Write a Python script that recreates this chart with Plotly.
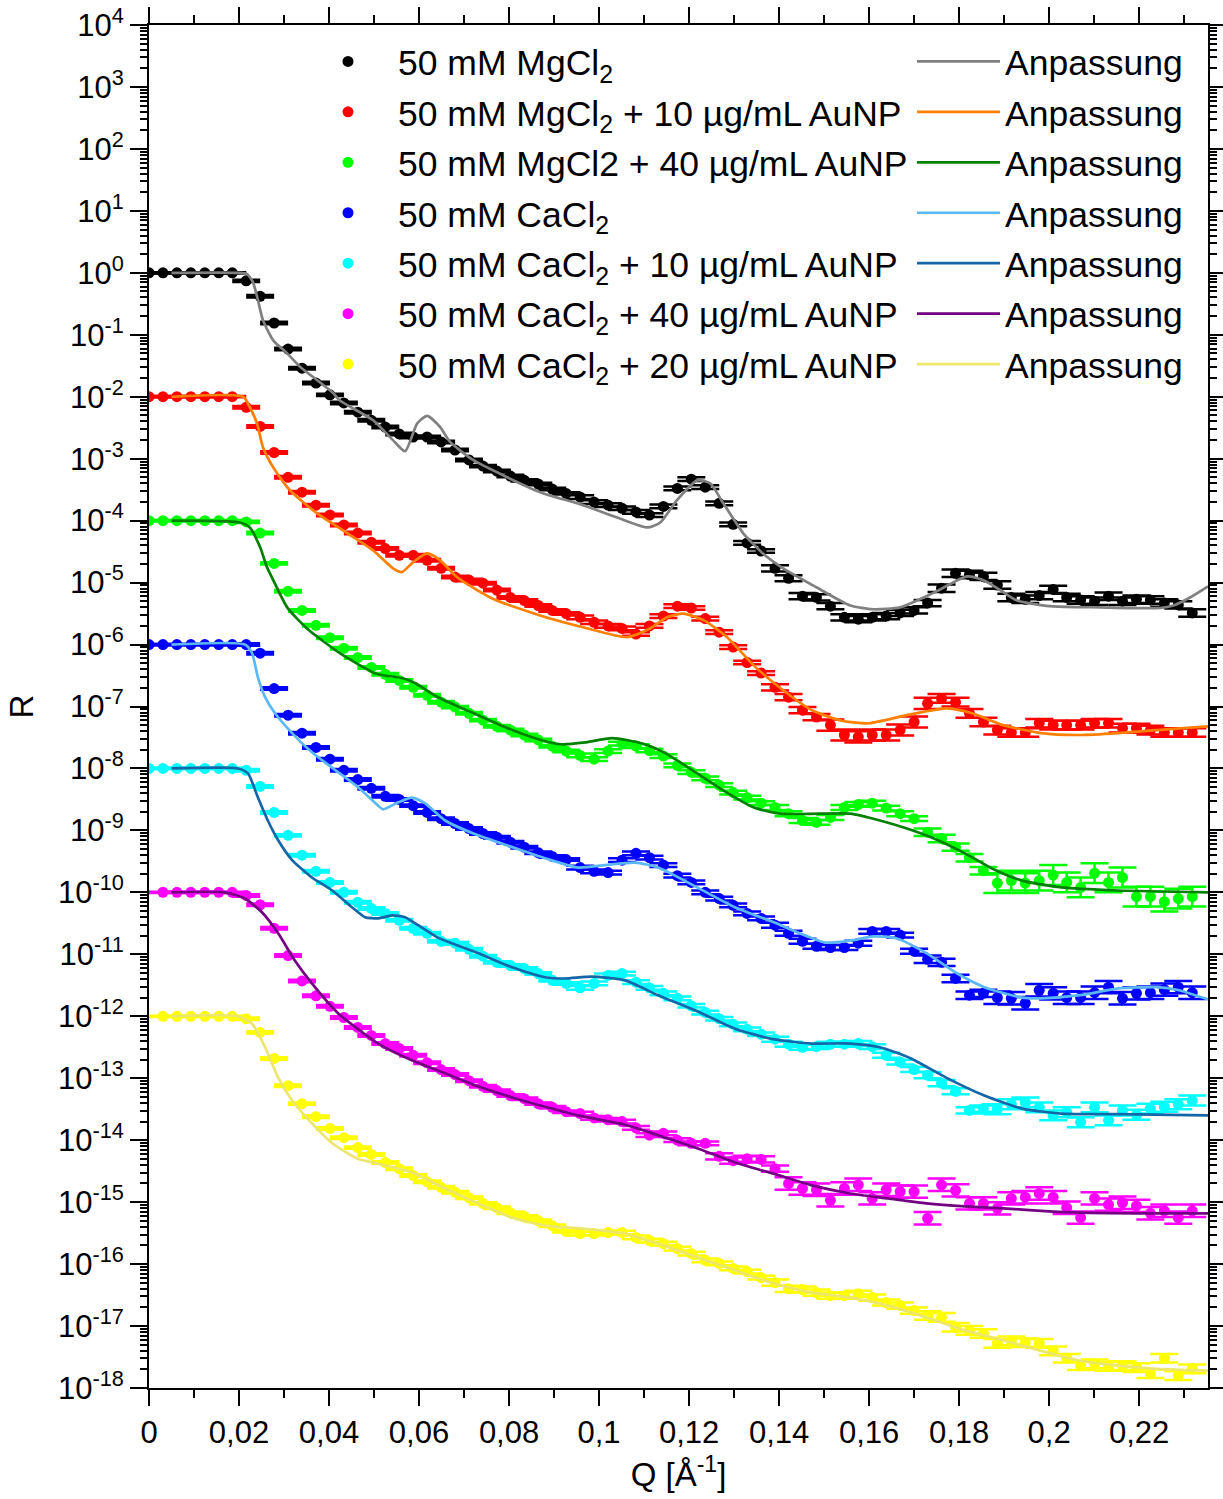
import numpy as np
import plotly.graph_objects as go

# ---------------- data ----------------
Q = [0, 0.0031, 0.0062, 0.0093, 0.0124, 0.0155, 0.0185, 0.0216, 0.0247, 0.0278,
     0.0309, 0.034, 0.0371, 0.0402, 0.0433, 0.0464, 0.0494, 0.0525, 0.0556, 0.0587,
     0.0618, 0.0649, 0.068, 0.0711, 0.0742, 0.0773, 0.0803, 0.0834, 0.0865, 0.0896,
     0.0927, 0.0958, 0.0989, 0.102, 0.1051, 0.1082, 0.1112, 0.1143, 0.1174, 0.1205,
     0.1236, 0.1267, 0.1298, 0.1329, 0.136, 0.1391, 0.1421, 0.1452, 0.1483, 0.1514,
     0.1545, 0.1576, 0.1607, 0.1638, 0.1669, 0.17, 0.173, 0.1761, 0.1792, 0.1823,
     0.1854, 0.1885, 0.1916, 0.1947, 0.1978, 0.2009, 0.2039, 0.207, 0.2101, 0.2132,
     0.2163, 0.2194, 0.2225, 0.2256, 0.2287, 0.2318]
Q_late = Q[1:]   # the last two series start at the second Q point

# log10(R) of the measured points
logR_mg = [0.00, 0.00, 0.00, 0.00, 0.00, 0.00, 0.00, -0.13, -0.38, -0.81,
           -1.23, -1.54, -1.78, -1.97, -2.10, -2.25, -2.38, -2.49, -2.60, -2.65,
           -2.65, -2.73, -2.86, -3.02, -3.12, -3.20, -3.28, -3.35, -3.41, -3.49,
           -3.56, -3.62, -3.70, -3.75, -3.80, -3.86, -3.91, -3.77, -3.48, -3.33,
           -3.46, -3.72, -4.06, -4.36, -4.49, -4.77, -4.93, -5.22, -5.24, -5.38,
           -5.56, -5.59, -5.56, -5.54, -5.49, -5.45, -5.33, -5.09, -4.85, -4.87,
           -4.90, -5.04, -5.24, -5.27, -5.21, -5.11, -5.24, -5.28, -5.30, -5.22,
           -5.30, -5.27, -5.28, -5.33, -5.36, -5.49]
logR_mg10 = [-2.00, -2.00, -2.00, -2.00, -2.00, -2.00, -2.00, -2.17, -2.48, -2.90,
             -3.30, -3.54, -3.75, -3.91, -4.07, -4.20, -4.35, -4.45, -4.56, -4.56,
             -4.64, -4.77, -4.91, -4.96, -5.01, -5.12, -5.24, -5.29, -5.37, -5.45,
             -5.50, -5.56, -5.64, -5.70, -5.74, -5.83, -5.70, -5.54, -5.38, -5.41,
             -5.58, -5.80, -6.04, -6.29, -6.46, -6.69, -6.85, -7.06, -7.17, -7.30,
             -7.46, -7.49, -7.46, -7.46, -7.38, -7.25, -6.95, -6.87, -6.93, -7.11,
             -7.25, -7.38, -7.42, -7.42, -7.27, -7.30, -7.30, -7.30, -7.27, -7.27,
             -7.35, -7.35, -7.38, -7.42, -7.42, -7.42]
logR_mg40 = [-4.00, -4.00, -4.00, -4.00, -4.00, -4.00, -4.00, -4.02, -4.20, -4.69,
             -5.14, -5.45, -5.69, -5.89, -6.06, -6.21, -6.37, -6.48, -6.58, -6.69,
             -6.82, -6.93, -7.01, -7.11, -7.22, -7.32, -7.38, -7.46, -7.54, -7.64,
             -7.72, -7.79, -7.85, -7.72, -7.60, -7.64, -7.71, -7.80, -7.95, -8.06,
             -8.16, -8.27, -8.39, -8.47, -8.56, -8.63, -8.73, -8.84, -8.87, -8.79,
             -8.63, -8.58, -8.56, -8.64, -8.73, -8.81, -9.03, -9.13, -9.27, -9.44,
             -9.65, -9.85, -9.81, -9.85, -9.81, -9.72, -9.84, -9.92, -9.69, -9.84,
             -9.76, -10.07, -10.07, -10.15, -10.10, -10.07]
logR_ca = [-6.00, -6.00, -6.00, -6.00, -6.00, -6.00, -6.00, -6.00, -6.14, -6.71,
           -7.14, -7.43, -7.66, -7.85, -8.03, -8.18, -8.32, -8.45, -8.50, -8.60,
           -8.71, -8.81, -8.89, -8.97, -9.05, -9.11, -9.19, -9.27, -9.36, -9.42,
           -9.47, -9.60, -9.66, -9.68, -9.48, -9.37, -9.44, -9.56, -9.73, -9.84,
           -10.00, -10.10, -10.21, -10.34, -10.42, -10.53, -10.66, -10.79, -10.87, -10.89,
           -10.89, -10.82, -10.63, -10.63, -10.69, -10.95, -11.08, -11.13, -11.39, -11.66,
           -11.63, -11.70, -11.71, -11.79, -11.58, -11.63, -11.70, -11.70, -11.62, -11.53,
           -11.71, -11.63, -11.62, -11.57, -11.53, -11.62]
logR_ca10 = [-8.00, -8.00, -8.00, -8.00, -8.00, -8.00, -8.00, -8.03, -8.29, -8.71,
             -9.08, -9.40, -9.66, -9.84, -10.00, -10.16, -10.26, -10.34, -10.45, -10.58,
             -10.66, -10.79, -10.82, -10.92, -11.03, -11.13, -11.18, -11.23, -11.31, -11.42,
             -11.47, -11.54, -11.47, -11.34, -11.31, -11.45, -11.54, -11.63, -11.71, -11.83,
             -11.94, -12.04, -12.13, -12.21, -12.29, -12.37, -12.45, -12.50, -12.49, -12.45,
             -12.45, -12.44, -12.49, -12.63, -12.74, -12.86, -12.95, -13.08, -13.21, -13.52,
             -13.49, -13.50, -13.42, -13.39, -13.47, -13.60, -13.55, -13.71, -13.47, -13.68,
             -13.52, -13.59, -13.49, -13.46, -13.42, -13.36]
logR_ca40 = [-10.00, -10.00, -10.00, -10.00, -10.00, -10.00, -10.05, -10.20, -10.58,
             -11.02, -11.43, -11.67, -11.84, -12.02, -12.18, -12.31, -12.44, -12.52, -12.63,
             -12.75, -12.86, -12.94, -13.04, -13.13, -13.20, -13.28, -13.33, -13.41, -13.47,
             -13.54, -13.57, -13.64, -13.67, -13.70, -13.80, -13.92, -13.89, -14.00, -14.05,
             -14.05, -14.26, -14.33, -14.30, -14.31, -14.46, -14.70, -14.78, -14.80, -14.97,
             -14.78, -14.72, -14.94, -14.80, -14.83, -14.83, -15.26, -14.72, -14.81, -15.02,
             -15.02, -15.10, -14.94, -14.92, -14.86, -14.92, -15.09, -15.25, -14.94, -15.04,
             -15.01, -15.06, -15.18, -15.14, -15.25, -15.14]
logR_ca20 = [-12.00, -12.00, -12.00, -12.00, -12.00, -12.00, -12.04, -12.26, -12.68,
             -13.12, -13.41, -13.62, -13.81, -13.96, -14.12, -14.23, -14.36, -14.46, -14.57,
             -14.67, -14.76, -14.84, -14.93, -15.02, -15.09, -15.17, -15.23, -15.30, -15.38,
             -15.47, -15.51, -15.51, -15.49, -15.49, -15.57, -15.62, -15.67, -15.75, -15.83,
             -15.94, -15.99, -16.07, -16.12, -16.22, -16.30, -16.40, -16.41, -16.46, -16.51,
             -16.51, -16.48, -16.54, -16.62, -16.67, -16.75, -16.83, -16.86, -17.02, -17.07,
             -17.12, -17.28, -17.24, -17.27, -17.28, -17.40, -17.52, -17.64, -17.61, -17.65,
             -17.64, -17.67, -17.77, -17.52, -17.80, -17.69]

# error-bar half heights, in hundredths of a decade
err_mg = [1, 1, 1, 1, 1, 1, 1, 2, 2, 2, 2, 2, 2, 2, 2, 2, 2, 2, 2, 2, 2, 2, 2, 2, 2, 2,
          2, 2, 2, 2, 2, 3, 3, 3, 3, 3, 3, 3, 3, 3, 3, 3, 3, 3, 3, 5, 5, 5, 5, 5, 5, 5,
          5, 5, 5, 5, 5, 6, 6, 6, 6, 6, 6, 6, 6, 6, 6, 6, 6, 6, 6, 6, 6, 6, 6, 6]
err_mg10 = [1, 1, 1, 1, 1, 1, 1, 2, 2, 2, 2, 2, 2, 2, 2, 2, 2, 2, 2, 2, 2, 2, 2, 2, 2, 2,
            2, 2, 2, 2, 2, 3, 3, 3, 3, 3, 3, 3, 3, 3, 3, 3, 3, 3, 3, 5, 5, 5, 5, 9, 9, 9,
            9, 9, 9, 9, 9, 7, 7, 7, 7, 7, 7, 7, 7, 7, 7, 7, 7, 7, 7, 7, 7, 7, 7, 7]
err_mg40 = [1, 1, 1, 1, 1, 1, 1, 2, 2, 2, 2, 2, 2, 2, 2, 2, 2, 2, 2, 2, 2, 2, 2, 2, 2, 2,
            2, 2, 2, 2, 2, 3, 3, 3, 3, 3, 3, 3, 3, 3, 3, 3, 3, 3, 3, 4, 4, 4, 4, 4, 4, 4,
            4, 4, 4, 4, 6, 6, 6, 6, 6, 16, 16, 16, 16, 16, 16, 16, 16, 16, 16, 16, 16, 16, 16, 16]
err_ca = [1, 1, 1, 1, 1, 1, 1, 2, 2, 2, 2, 2, 2, 2, 2, 2, 2, 2, 2, 2, 2, 2, 2, 2, 2, 2,
          2, 2, 2, 2, 2, 3, 3, 3, 3, 3, 3, 3, 3, 3, 3, 3, 3, 3, 3, 4, 4, 4, 4, 4, 4, 4,
          4, 4, 4, 4, 6, 6, 6, 6, 6, 10, 10, 10, 10, 10, 10, 10, 10, 10, 10, 10, 10, 10, 10, 10]
err_ca10 = [1, 1, 1, 1, 1, 1, 1, 2, 2, 2, 2, 2, 2, 2, 2, 2, 2, 2, 2, 2, 2, 2, 2, 2, 2, 2,
            2, 2, 2, 2, 2, 3, 3, 3, 3, 3, 3, 3, 3, 3, 3, 3, 3, 3, 3, 4, 4, 4, 4, 4, 4, 4,
            4, 4, 4, 4, 5, 5, 5, 5, 5, 8, 8, 8, 8, 8, 8, 8, 8, 8, 8, 8, 8, 8, 8, 8]
err_ca40 = [1, 1, 1, 1, 1, 1, 2, 2, 2, 2, 2, 2, 2, 2, 2, 2, 2, 2, 2, 2, 2, 2, 2, 2, 2,
            2, 2, 2, 2, 2, 3, 3, 3, 3, 3, 3, 3, 3, 3, 3, 5, 5, 5, 5, 5, 10, 10, 10, 10, 10,
            10, 10, 10, 10, 10, 10, 10, 10, 10, 10, 10, 10, 10, 10, 10, 10, 10, 10, 10, 10,
            10, 10, 10, 10, 10]
err_ca20 = [1, 1, 1, 1, 1, 1, 2, 2, 2, 2, 2, 2, 2, 2, 2, 2, 2, 2, 2, 2, 2, 2, 2, 2, 2,
            2, 2, 2, 2, 2, 3, 3, 3, 3, 3, 3, 3, 3, 3, 3, 3, 3, 3, 3, 5, 5, 5, 5, 5, 5,
            5, 5, 5, 5, 5, 7, 7, 7, 7, 7, 7, 7, 7, 7, 7, 7, 7, 7, 7, 7, 7, 7, 7, 7, 7]

# fitted curves ("Anpassung"): Q positions and log10(R)
fitQ_mg = [0.005, 0.0200, 0.0218, 0.0231, 0.0242, 0.0253, 0.0276, 0.0307, 0.0336, 0.0373,
           0.0409, 0.0424, 0.0498, 0.0542, 0.0569, 0.0596, 0.0618, 0.0647, 0.0669, 0.0720,
           0.0796, 0.0869, 0.0964, 0.1040, 0.1107, 0.1136, 0.1173, 0.1218, 0.1247, 0.1276,
           0.1320, 0.1364, 0.1409, 0.1484, 0.1558, 0.1609, 0.1669, 0.1742, 0.1818, 0.1853,
           0.1891, 0.1929, 0.2002, 0.2113, 0.2247, 0.2276, 0.2313, 0.2353]
fit_mg = [0.00, 0.00, -0.02, -0.15, -0.44, -0.76, -1.09, -1.30, -1.52, -1.73,
          -1.94, -2.06, -2.38, -2.70, -2.88, -2.43, -2.31, -2.49, -2.73, -3.02,
          -3.30, -3.54, -3.75, -3.95, -4.11, -4.03, -3.67, -3.35, -3.40, -3.72,
          -4.20, -4.53, -4.77, -5.08, -5.37, -5.43, -5.40, -5.17, -4.90, -4.96,
          -5.12, -5.29, -5.38, -5.40, -5.41, -5.37, -5.24, -5.06]
fitQ_mg10 = [0.005, 0.0209, 0.0224, 0.0240, 0.0253, 0.0276, 0.0313, 0.0373, 0.0440, 0.0498,
             0.0542, 0.0562, 0.0587, 0.0618, 0.0647, 0.0684, 0.0758, 0.0869, 0.0964, 0.1062,
             0.1113, 0.1151, 0.1187, 0.1233, 0.1284, 0.1344, 0.1404, 0.1473, 0.1540, 0.1600,
             0.1684, 0.1771, 0.1829, 0.1898, 0.1982, 0.2069, 0.2153, 0.2238, 0.2353]
fit_mg10 = [-2.00, -2.00, -2.17, -2.43, -2.81, -3.14, -3.51, -3.88, -4.20, -4.48,
            -4.77, -4.83, -4.67, -4.53, -4.64, -4.91, -5.24, -5.53, -5.72, -5.88,
            -5.74, -5.56, -5.50, -5.61, -5.88, -6.34, -6.71, -7.06, -7.23, -7.27,
            -7.14, -7.03, -7.11, -7.30, -7.43, -7.46, -7.43, -7.38, -7.32]
fitQ_mg40 = [0.005, 0.0202, 0.0224, 0.0247, 0.0262, 0.0276, 0.0307, 0.0351, 0.0424, 0.0498,
             0.0524, 0.0562, 0.0591, 0.0642, 0.0731, 0.0807, 0.0880, 0.0918, 0.0969, 0.1029,
             0.1098, 0.1149, 0.1218, 0.1284, 0.1344, 0.1404, 0.1489, 0.1558, 0.1624, 0.1684,
             0.1744, 0.1813, 0.1880, 0.1940, 0.2027, 0.2153, 0.2353]
fit_mg40 = [-4.00, -4.03, -4.11, -4.43, -4.75, -4.96, -5.40, -5.74, -6.14, -6.45,
            -6.50, -6.54, -6.62, -6.85, -7.14, -7.38, -7.56, -7.61, -7.58, -7.51,
            -7.60, -7.76, -8.08, -8.39, -8.63, -8.73, -8.73, -8.73, -8.84, -8.97,
            -9.13, -9.37, -9.64, -9.81, -9.92, -9.97, -10.00]
fitQ_ca = [0.005, 0.0213, 0.0229, 0.0242, 0.0258, 0.0280, 0.0318, 0.0362, 0.0407, 0.0464,
           0.0509, 0.0520, 0.0553, 0.0584, 0.0613, 0.0658, 0.0731, 0.0807, 0.0880, 0.0953,
           0.1013, 0.1080, 0.1131, 0.1218, 0.1302, 0.1387, 0.1456, 0.1502, 0.1558, 0.1609,
           0.1660, 0.1727, 0.1796, 0.1856, 0.1940, 0.1982, 0.2069, 0.2153, 0.2238, 0.2289,
           0.2353]
fit_ca = [-6.00, -6.00, -6.14, -6.53, -6.85, -7.11, -7.43, -7.74, -7.99, -8.30,
          -8.60, -8.66, -8.55, -8.47, -8.56, -8.84, -9.08, -9.27, -9.45, -9.60,
          -9.56, -9.52, -9.60, -9.92, -10.24, -10.48, -10.69, -10.81, -10.78, -10.71,
          -10.74, -10.98, -11.31, -11.53, -11.70, -11.71, -11.66, -11.55, -11.53, -11.58,
          -11.73]
fitQ_ca10 = [0.005, 0.0198, 0.0220, 0.0242, 0.0264, 0.0287, 0.0318, 0.0362, 0.0407, 0.0451,
             0.0480, 0.0509, 0.0540, 0.0569, 0.0598, 0.0642, 0.0731, 0.0807, 0.0880, 0.0924,
             0.0984, 0.1058, 0.1131, 0.1218, 0.1302, 0.1387, 0.1473, 0.1558, 0.1624, 0.1693,
             0.1771, 0.1856, 0.1940, 0.2027, 0.2153, 0.2353]
fit_ca10 = [-8.00, -8.00, -8.08, -8.47, -8.84, -9.16, -9.48, -9.76, -9.97, -10.24,
            -10.40, -10.42, -10.37, -10.40, -10.53, -10.73, -10.98, -11.21, -11.37, -11.39,
            -11.36, -11.42, -11.66, -11.92, -12.20, -12.37, -12.44, -12.44, -12.50, -12.68,
            -12.99, -13.28, -13.49, -13.57, -13.58, -13.60]
fitQ_ca40 = [0.005, 0.0169, 0.0213, 0.0251, 0.0287, 0.0324, 0.0362, 0.0420, 0.0509, 0.0584,
             0.0658, 0.0731, 0.0807, 0.0880, 0.0953, 0.1058, 0.1131, 0.1218, 0.1302, 0.1387,
             0.1473, 0.1558, 0.1642, 0.1727, 0.1813, 0.1898, 0.1982, 0.2069, 0.2196, 0.2353]
fit_ca40 = [-10.00, -10.00, -10.10, -10.32, -10.66, -11.10, -11.47, -11.95, -12.44, -12.71,
            -12.92, -13.13, -13.31, -13.46, -13.60, -13.75, -13.92, -14.13, -14.36, -14.54,
            -14.73, -14.86, -14.94, -15.02, -15.07, -15.10, -15.14, -15.17, -15.18, -15.18]
fitQ_ca20 = [0.005, 0.0198, 0.0229, 0.0258, 0.0287, 0.0318, 0.0362, 0.0407, 0.0464, 0.0509,
             0.0584, 0.0658, 0.0731, 0.0807, 0.0880, 0.0953, 0.1058, 0.1131, 0.1218, 0.1302,
             0.1387, 0.1473, 0.1558, 0.1642, 0.1727, 0.1813, 0.1898, 0.1982, 0.2069, 0.2153,
             0.2238, 0.2353]
fit_ca20 = [-12.00, -12.00, -12.12, -12.50, -12.99, -13.36, -13.73, -14.05, -14.30, -14.38,
            -14.52, -14.78, -15.02, -15.25, -15.38, -15.42, -15.51, -15.67, -15.89, -16.10,
            -16.31, -16.46, -16.54, -16.67, -16.86, -17.07, -17.23, -17.40, -17.56, -17.64,
            -17.69, -17.72]

labels = ["50 mM MgCl<sub>2</sub>",
          "50 mM MgCl<sub>2</sub> + 10 µg/mL AuNP",
          "50 mM MgCl2 + 40 µg/mL AuNP",
          "50 mM CaCl<sub>2</sub>",
          "50 mM CaCl<sub>2</sub> + 10 µg/mL AuNP",
          "50 mM CaCl<sub>2</sub> + 40 µg/mL AuNP",
          "50 mM CaCl<sub>2</sub> + 20 µg/mL AuNP"]
fit_label = "Anpassung"

x_tickvals = [0, 0.02, 0.04, 0.06, 0.08, 0.1, 0.12, 0.14, 0.16, 0.18, 0.2, 0.22]
x_ticktext = ["0", "0,02", "0,04", "0,06", "0,08", "0,1", "0,12", "0,14", "0,16",
              "0,18", "0,2", "0,22"]
y_exponents = list(range(-18, 5))

# ---------------- styling ----------------
data_colors = ["#000000", "#ff0000", "#00ff00", "#0000ff", "#00ffff", "#ff00ff", "#ffff00"]
fit_colors = ["#808080", "#ff8000", "#008000", "#5cb8f5", "#1566a8", "#730082", "#ece66e"]
FONT = "Liberation Sans, Arial, sans-serif"

series = [
    (Q, logR_mg, err_mg, fitQ_mg, fit_mg),
    (Q, logR_mg10, err_mg10, fitQ_mg10, fit_mg10),
    (Q, logR_mg40, err_mg40, fitQ_mg40, fit_mg40),
    (Q, logR_ca, err_ca, fitQ_ca, fit_ca),
    (Q, logR_ca10, err_ca10, fitQ_ca10, fit_ca10),
    (Q_late, logR_ca40, err_ca40, fitQ_ca40, fit_ca40),
    (Q_late, logR_ca20, err_ca20, fitQ_ca20, fit_ca20),
]
for q, lr, er, fq, fl in series:
    assert len(q) == len(lr) == len(er), (len(q), len(lr), len(er))
    assert len(fq) == len(fl), (len(fq), len(fl))

fig = go.Figure()

for k, (q, lr, er, fq, fl) in enumerate(series):
    r = 10 ** np.array(lr)
    e = np.array(er) / 100.0
    plus = r * (10 ** e - 1)
    minus = r * (1 - 10 ** (-e))
    fig.add_trace(go.Scatter(
        x=q, y=r, mode="markers", name=labels[k], legend="legend",
        legendgroup="d%d" % k,
        marker=dict(color=data_colors[k], size=11, line=dict(width=0)),
        error_y=dict(type="data", array=plus, arrayminus=minus, symmetric=False,
                     color=data_colors[k], thickness=2.5, width=14),
    ))

for k, (q, lr, er, fq, fl) in enumerate(series):
    fig.add_trace(go.Scatter(
        x=fq, y=10 ** np.array(fl), mode="lines", name=fit_label, legend="legend2",
        legendgroup="f%d" % k,
        line=dict(color=fit_colors[k], width=2.7, shape="spline", smoothing=0.6),
    ))

minor_y = [m * 10.0 ** p for p in range(-18, 4) for m in range(2, 10)]
minor_x = [0.01, 0.03, 0.05, 0.07, 0.09, 0.11, 0.13, 0.15, 0.17, 0.19, 0.21, 0.23]

axis_common = dict(showgrid=False, zeroline=False, showline=True, linecolor="black",
                   linewidth=2, mirror="ticks", ticks="outside", tickwidth=2,
                   automargin=False,
                   tickcolor="black", tickfont=dict(family=FONT, size=31, color="black"))

fig.update_layout(
    template="none",
    width=1223, height=1499, autosize=False,
    margin=dict(l=149, r=15, t=25, b=111, autoexpand=False),
    paper_bgcolor="white", plot_bgcolor="white",
    font=dict(family=FONT, color="black"),
    showlegend=True,
    xaxis=dict(range=[0, 0.2353], tickmode="array", tickvals=x_tickvals,
               ticktext=x_ticktext, ticklen=16,
               minor=dict(tickmode="array", tickvals=minor_x, ticks="outside",
                          ticklen=8, tickwidth=2, tickcolor="black"),
               title=dict(text="Q [Å<sup>-1</sup>]",
                          font=dict(family=FONT, size=33, color="black"), standoff=14),
               **axis_common),
    yaxis=dict(type="log", range=[-18, 4], tickmode="array",
               tickvals=[10.0 ** p for p in y_exponents],
               ticktext=["10<sup>%d</sup>" % p for p in y_exponents], ticklen=17,
               minor=dict(tickmode="array", tickvals=minor_y, ticks="outside",
                          ticklen=7, tickwidth=1.5, tickcolor="black"),
               title=dict(text="R", font=dict(family=FONT, size=33, color="black"),
                          standoff=14),
               **axis_common),
    legend=dict(x=0.1407, y=0.995, xanchor="left", yanchor="top",
                bgcolor="rgba(0,0,0,0)", borderwidth=0, itemwidth=90,
                traceorder="grouped", tracegroupgap=1.3,
                font=dict(family=FONT, size=35.5, color="black")),
    legend2=dict(x=0.7205, y=0.995, xanchor="left", yanchor="top",
                 bgcolor="rgba(0,0,0,0)", borderwidth=0, itemwidth=83,
                 traceorder="grouped", tracegroupgap=1.3,
                 font=dict(family=FONT, size=35.5, color="black")),
)

fig.write_html("out.html",
               config={"responsive": False, "displayModeBar": False},
               post_script="document.body.style.margin='0';")
